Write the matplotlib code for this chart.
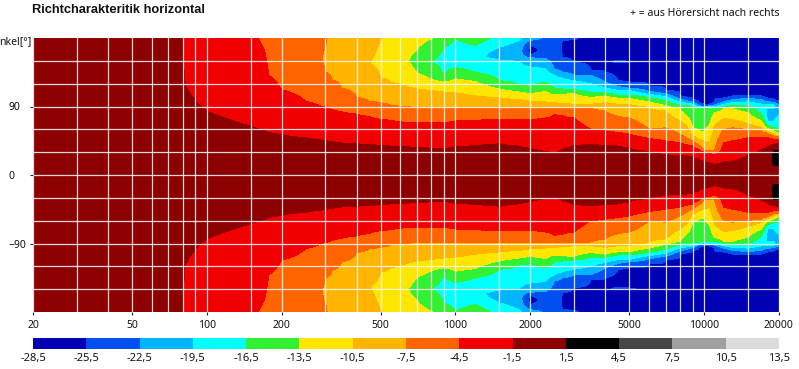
import numpy as np
import matplotlib
matplotlib.use("Agg")
import matplotlib.pyplot as plt
from matplotlib.colors import ListedColormap, BoundaryNorm
from matplotlib.ticker import NullFormatter

plt.rcParams["font.family"] = ["Noto Sans", "DejaVu Sans"]

# colour bands, one per 3 dB step
level_bounds = [-28.5, -25.5, -22.5, -19.5, -16.5, -13.5, -10.5, -7.5, -4.5,
                -1.5, 1.5, 4.5, 7.5, 10.5, 13.5]
level_labels = ["-28,5", "-25,5", "-22,5", "-19,5", "-16,5", "-13,5", "-10,5", "-7,5",
                "-4,5", "-1,5", "1,5", "4,5", "7,5", "10,5", "13,5"]
band_colors = ["#0000b4", "#0050f0", "#00b4ff", "#00ffff", "#32f032", "#ffe600", "#ffb400",
               "#ff6400", "#f00000", "#8c0000", "#000000", "#464646", "#a0a0a0", "#dcdcdc"]

EDGE_DB = [-1.5, -4.5, -7.5, -10.5, -13.5, -16.5, -19.5, -22.5, -25.5]


def edges(*angles):
    """angles (deg, from 0 outwards) where the level falls through each edge"""
    return list(zip(angles, EDGE_DB))


# measured directivity, read per frequency column: (angle, dB) pairs for 0..180 deg
column_freqs = [20, 78, 82, 100, 125, 150, 172, 178, 200, 250, 290, 300, 320, 350, 400, 450,
                500, 550, 600, 640, 700, 800, 900, 1000, 1200, 1500, 1800, 2000, 2300, 2500,
                2700, 3000, 3500, 4000, 4500, 5000, 6000, 7000, 8000, 8500, 9000, 9500, 10000,
                10500, 11000, 12000, 13000, 15000, 17000, 18000, 18500, 19000, 20000]
column_profiles = [
    [(180, 0)],
    [(180, 0)],
    edges(117) + [(180, -3)],
    edges(84) + [(180, -3.6)],
    edges(72) + [(180, -3.9)],
    edges(64) + [(180, -4.2)],
    edges(58, 160) + [(180, -4.8)],
    edges(56, 131) + [(180, -6)],
    edges(53, 112) + [(180, -6.3)],
    edges(49, 97) + [(180, -7)],
    edges(46, 90) + [(151, -7.45), (180, -7.2)],
    edges(45, 89, 135) + [(151, -7.9), (168, -7.5), (180, -7.2)],
    edges(44, 86, 125) + [(180, -8.5)],
    edges(42, 83, 114) + [(180, -9.3)],
    edges(41, 80, 102) + [(180, -10)],
    edges(40, 77, 97) + [(146, -10.45), (180, -9.8)],
    edges(39, 73, 95, 128) + [(150, -11), (178, -10.5), (180, -10.4)],
    edges(38, 72, 92, 122) + [(150, -12), (180, -11)],
    edges(37, 70, 90, 119) + [(150, -13), (180, -12)],
    edges(37, 69, 89.5, 116) + [(149, -13.45), (180, -12.3)],
    edges(36, 69, 89, 113, 134) + [(149, -14.5), (165, -13.5), (180, -12.7)],
    edges(35.5, 69, 89, 111, 126) + [(149, -16.45), (179, -13.5), (180, -13.4)],
    edges(35, 69, 89, 109, 122, 130) + [(149, -17.5), (168, -16.5), (180, -14.5)],
    edges(37, 71, 89, 108, 126.5, 141) + [(160, -18.5), (179, -16.5), (180, -16.3)],
    edges(39, 72, 89, 104, 123, 135) + [(155, -19), (170, -16.5), (180, -15)],
    edges(41, 73, 89, 101, 113, 124, 151) + [(160, -21), (168, -19.5), (180, -17.5)],
    edges(38, 73, 89, 99, 109, 118, 149.5) + [(163, -21.5), (177, -19.5), (180, -19)],
    edges(35, 73, 89, 97, 107, 116, 142, 154, 157) + [(164, -26.5), (171, -25.5), (177, -22.5), (180, -21.5)],
    edges(31, 75, 89, 96, 110, 122, 140, 153) + [(164, -24.8), (180, -22.8)],
    edges(29, 80, 89, 95, 105, 114, 131, 139) + [(160, -24.5), (180, -22.8)],
    edges(34, 78, 89, 94, 106, 113, 127, 135, 155) + [(170, -26), (177, -25.5), (180, -24)],
    edges(39, 75, 89, 93, 107, 112, 124, 131, 148) + [(170, -26.5), (180, -25.2)],
    edges(40, 60, 88, 93, 102, 108, 120, 131, 138) + [(180, -26.5)],
    edges(39, 58, 84, 95, 104, 108, 115, 122, 135) + [(180, -27)],
    edges(38, 56, 77, 93, 101, 105, 111, 116, 124) + [(144, -26.8), (149, -25), (154, -26.8), (180, -27)],
    edges(36, 54, 75, 93, 101, 105, 111, 114, 122) + [(146, -26.8), (149, -25.2), (152, -26.8), (180, -27)],
    edges(31, 48, 60, 89, 96, 102, 106, 110, 117) + [(180, -27)],
    edges(27, 45, 62, 84, 91, 98, 103, 106.4, 111) + [(180, -27)],
    edges(25, 42.6, 53.6, 71, 87, 92, 96, 99.8, 104) + [(180, -27)],
    edges(25, 40, 49, 65, 78, 91, 94.5, 97.6, 102) + [(180, -27)],
    edges(24, 38, 45, 51, 62, 90, 93, 95.4, 99) + [(180, -27)],
    edges(21, 34, 39, 47, 58, 88, 90, 92, 95) + [(180, -27)],
    edges(18, 30, 33, 45, 57, 88.4, 89.2, 89.7, 90) + [(180, -27)],
    edges(16, 28, 32, 42, 66, 88, 90, 91, 93) + [(180, -27)],
    edges(14, 27, 32, 65, 82, 87, 90, 92, 95) + [(180, -27)],
    edges(18, 42.6, 60, 74, 87, 90, 93, 96, 101) + [(180, -27)],
    edges(18, 45, 62, 73, 87.5, 92, 95.4, 99, 103) + [(180, -27)],
    edges(27, 49, 60, 67, 82, 91, 96, 101, 105) + [(180, -27)],
    edges(34, 49, 58, 62, 71, 80, 93, 99, 103) + [(180, -27)],
    edges(38, 49, 55, 57, 61, 65.5, 71) + [(80, -20.5), (88, -19.5), (91, -19), (93, -19.5), (96, -22.5), (101, -25.5), (180, -27)],
    edges(39, 48, 53, 55, 59, 64, 70) + [(80, -20.5), (88, -19.5), (91, -19), (93, -19.5), (96, -22.5), (101, -25.5), (180, -27)],
    [(10, 1.2), (12, 1.5), (22, 3), (32, 1.5), (35, 0)] + edges(40, 47, 51.4, 53.6, 58, 62.4, 71) + [(80, -20.5), (88, -19.5), (91, -19), (93, -19.5), (95.5, -22.5), (99, -25.5), (180, -27)],
    [(10, 1), (12, 1.5), (22, 3), (32, 1.5), (35, 0)] + edges(42.6, 47, 50.5, 51.4, 53.6, 60, 78) + [(88, -20), (91.5, -22.5), (97, -25.5), (180, -27)],
]

# axis furniture
x_labelled = [20, 50, 100, 200, 500, 1000, 2000, 5000, 10000, 20000]
x_grid = [30, 40, 50, 60, 70, 80, 90, 100, 150, 200, 300, 400, 500, 600, 700, 800, 900, 1000,
          1500, 2000, 3000, 4000, 5000, 6000, 7000, 8000, 9000, 10000, 15000]
y_labelled = [-90, 0, 90]
y_grid = [-150, -120, -90, -60, -30, 0, 30, 60, 90, 120, 150]

W, H = 799, 369


def px_axes(fig, left, top, right, bottom):
    return fig.add_axes([left / W, 1 - bottom / H, (right - left) / W, (bottom - top) / H])


def build_grid():
    # profiles only cover one side, the measurement is mirrored around 0 deg
    half = np.arange(0, 181, 1.0)
    rows = []
    for prof in column_profiles:
        a = [0] + [p[0] for p in prof]
        v = [0] + [p[1] for p in prof]
        rows.append(np.interp(half, a, v))
    half_z = np.array(rows).T
    angle = np.concatenate([-half[:0:-1], half])
    z = np.vstack([half_z[:0:-1], half_z])
    return angle, z


fig = plt.figure(figsize=(W / 100, H / 100), dpi=100, facecolor="white")

ax = px_axes(fig, 33, 38, 779, 312)
cmap = ListedColormap(band_colors)
norm = BoundaryNorm(level_bounds, cmap.N)
angle, z = build_grid()
ax.contourf(column_freqs, angle, z, levels=level_bounds, cmap=cmap, norm=norm, antialiased=False)
ax.set_xscale("log")
ax.set_xlim(20, 20000)
ax.set_ylim(-180, 180)

ax.set_xticks(x_labelled)
ax.set_xticklabels([str(v) for v in x_labelled])
ax.set_xticks(x_grid, minor=True)
ax.xaxis.set_minor_formatter(NullFormatter())
ax.set_yticks(y_labelled)
ax.set_yticks(y_grid, minor=True)
ax.tick_params(axis="both", which="minor", length=0)
ax.tick_params(axis="x", which="major", length=2.5, width=0.8, pad=3, labelsize=7.5, color="#222222", labelcolor="#111111")
ax.tick_params(axis="y", which="major", length=2.5, width=0.8, pad=15, labelsize=7.5, color="#222222", labelcolor="#111111")
for lab in ax.get_yticklabels():
    lab.set_horizontalalignment("left")
ax.grid(True, which="both", color="white", linewidth=0.9, alpha=0.85)
ax.set_axisbelow(False)
for s in ax.spines.values():
    s.set_visible(False)

fig.text(32 / W, 1 - 10 / H, "Richtcharakteritik horizontal", fontsize=9.3, fontweight="bold",
         family="Liberation Sans", color="#111111", ha="left", va="center")
fig.text(779 / W, 1 - 13 / H, "+ = aus Hörersicht nach rechts", fontsize=7.5, color="#111111",
         ha="right", va="center")
fig.text(31 / W, 1 - 42 / H, "nkel[°]", fontsize=7.5, color="#111111", ha="right", va="center")

# legend strip below the plot
cax = px_axes(fig, 33, 338, 779, 349)
cax.pcolormesh(level_bounds, [0, 1], np.array([[(a + b) / 2 for a, b in zip(level_bounds[:-1], level_bounds[1:])]]),
               cmap=cmap, norm=norm)
cax.set_xlim(level_bounds[0], level_bounds[-1])
cax.set_yticks([])
cax.set_xticks(level_bounds)
cax.set_xticklabels(level_labels)
cax.tick_params(axis="x", length=0, pad=3, labelsize=8, labelcolor="#111111")
for s in cax.spines.values():
    s.set_visible(False)

fig.savefig("out.png", dpi=100, facecolor="white")
